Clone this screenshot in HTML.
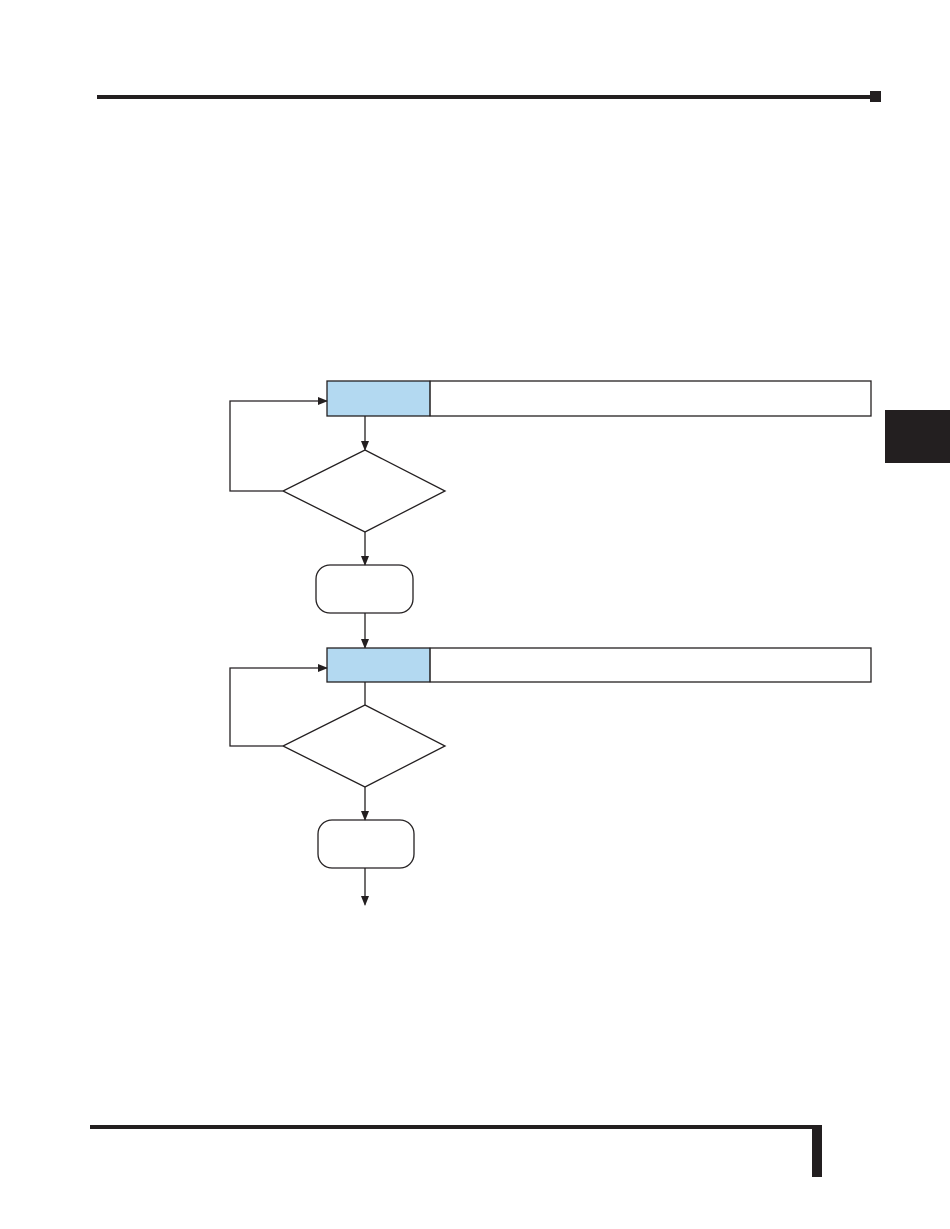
<!DOCTYPE html>
<html><head><meta charset="utf-8"><style>
html,body{margin:0;padding:0;background:#fff;width:950px;height:1229px;overflow:hidden}
</style></head><body>
<svg width="950" height="1229" viewBox="0 0 950 1229" xmlns="http://www.w3.org/2000/svg">
<defs><marker id="a" markerWidth="10" markerHeight="8" refX="9" refY="4" orient="auto" markerUnits="userSpaceOnUse"><path d="M0,0 L10,4 L0,8 z" fill="#231f20"/></marker></defs>
<rect x="97" y="95" width="775" height="4" fill="#231f20"/>
<rect x="870" y="91" width="11" height="11" fill="#231f20"/>
<rect x="885" y="410" width="65" height="53" fill="#231f20"/>
<rect x="90" y="1125" width="732" height="4" fill="#231f20"/>
<rect x="812" y="1125" width="10" height="52" fill="#231f20"/>
<g stroke="#231f20" stroke-width="1.3" fill="none">
<rect x="327" y="381" width="103" height="35" fill="#b3d9f1"/>
<rect x="430" y="381" width="441" height="35"/>
<line x1="365" y1="416" x2="365" y2="450" marker-end="url(#a)"/>
<polygon points="365,450 445,491 365,532 283,491"/>
<polyline points="283,491 230,491 230,401 327,401" marker-end="url(#a)"/>
<line x1="365" y1="532" x2="365" y2="565" marker-end="url(#a)"/>
<rect x="316" y="565" width="97" height="48" rx="14"/>
<line x1="365" y1="613" x2="365" y2="648" marker-end="url(#a)"/>
<rect x="327" y="648" width="103" height="34" fill="#b3d9f1"/>
<rect x="430" y="648" width="441" height="34"/>
<line x1="365" y1="682" x2="365" y2="705"/>
<polygon points="365,705 445,746 365,787 283,746"/>
<polyline points="283,746 230,746 230,668 327,668" marker-end="url(#a)"/>
<line x1="365" y1="787" x2="365" y2="820" marker-end="url(#a)"/>
<rect x="318" y="820" width="96" height="48" rx="14"/>
<line x1="365" y1="868" x2="365" y2="905" marker-end="url(#a)"/>
</g>
</svg>
</body></html>
